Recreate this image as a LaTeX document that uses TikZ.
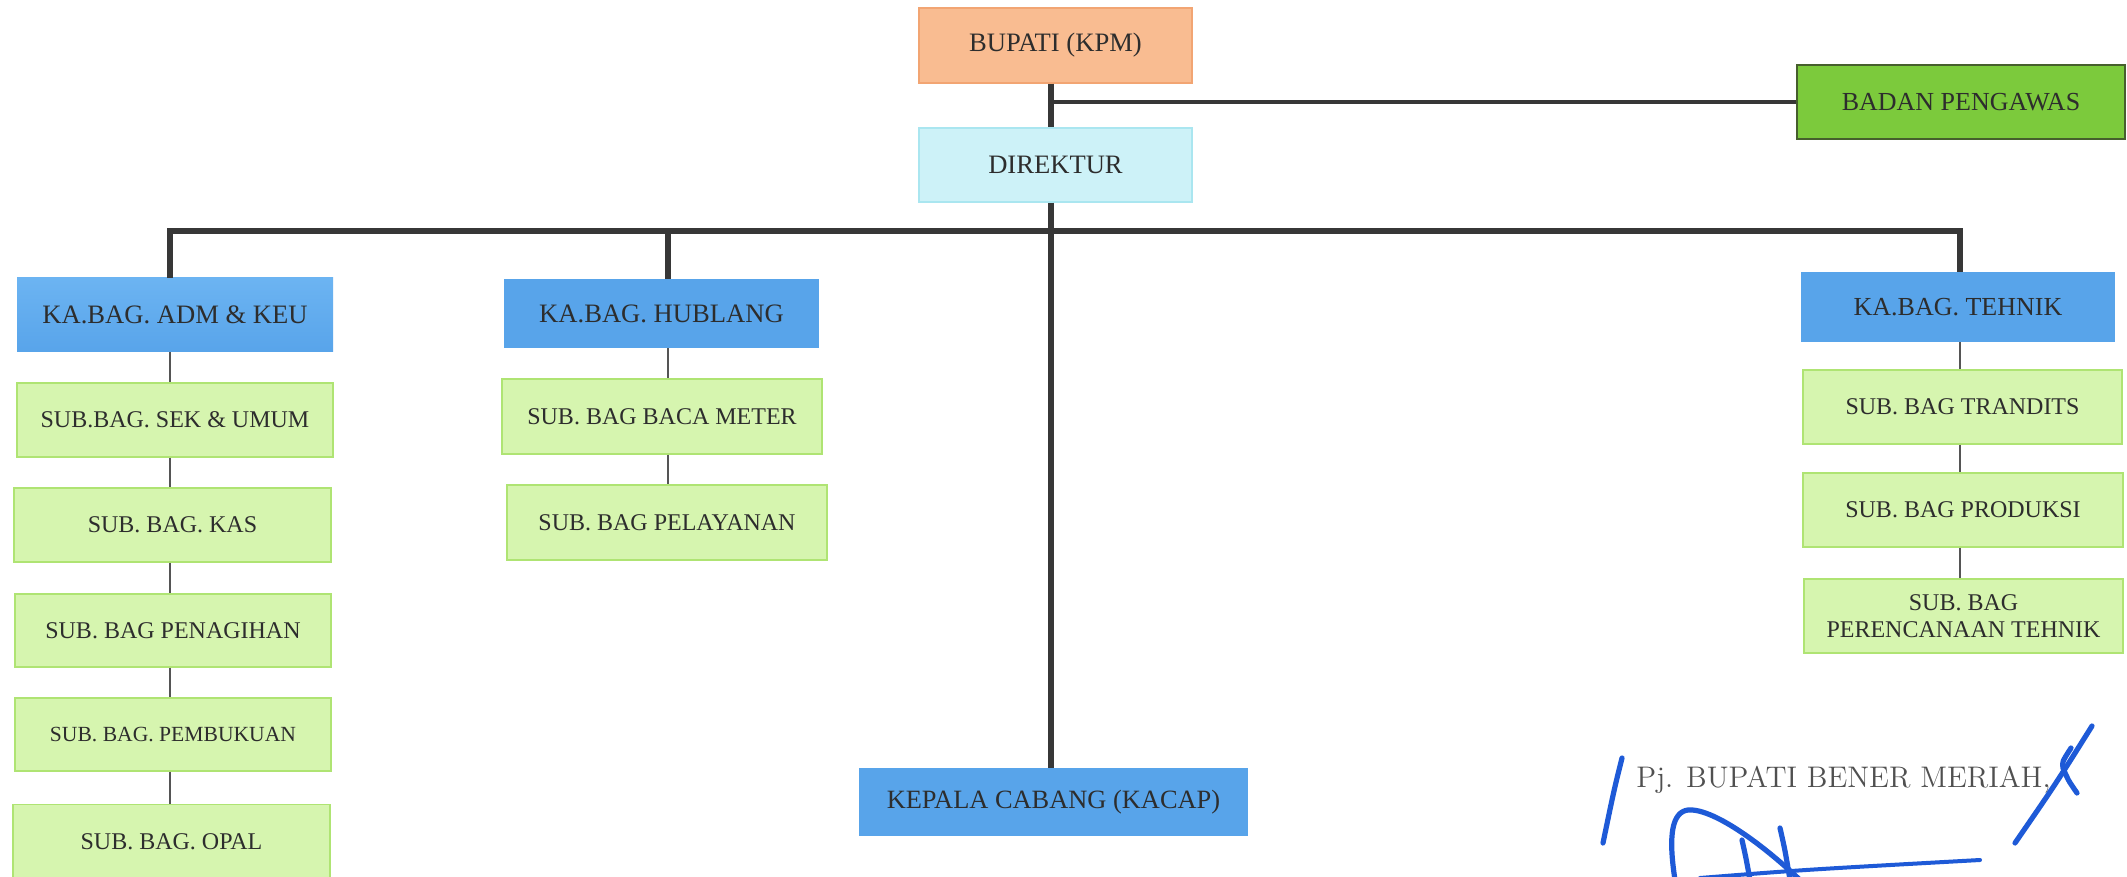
\documentclass[tikz,border=0pt]{standalone}
\usepackage{fontspec}
\newfontfamily\tnr{Liberation Serif}
\definecolor{txt}{RGB}{45,45,45}
\definecolor{linec}{RGB}{55,55,55}
\definecolor{orfill}{RGB}{249,188,145}
\definecolor{ordraw}{RGB}{242,165,115}
\definecolor{cyfill}{RGB}{205,242,248}
\definecolor{cydraw}{RGB}{170,230,240}
\definecolor{grfill}{RGB}{124,202,60}
\definecolor{grdraw}{RGB}{70,95,45}
\definecolor{blfill}{RGB}{88,164,234}
\definecolor{bltop}{RGB}{108,180,242}
\definecolor{lgfill}{RGB}{214,245,175}
\definecolor{lgdraw}{RGB}{175,228,115}
\definecolor{sig}{RGB}{30,90,215}
\definecolor{sigtext}{RGB}{80,80,80}
\begin{document}
\begin{tikzpicture}[x=0.5pt,y=-0.5pt,
  box/.style={rectangle,inner sep=0pt,align=center,text=txt,font=\tnr\fontsize{12pt}{13pt}\selectfont},
  topbox/.style={box,font=\tnr\fontsize{13.3pt}{15pt}\selectfont},
  orangebox/.style={topbox,fill=orfill,draw=ordraw,line width=0.6pt},
  cyanbox/.style={topbox,fill=cyfill,draw=cydraw,line width=0.6pt},
  greenbox/.style={topbox,fill=grfill,draw=grdraw,line width=1pt,font=\tnr\fontsize{13pt}{15pt}\selectfont},
  bluebox/.style={topbox,fill=blfill,draw=none},
  subbox/.style={box,fill=lgfill,draw=lgdraw,line width=0.6pt},
  thickline/.style={draw=linec,line width=3.2pt},
  thinline/.style={draw=linec!85,line width=0.9pt},
  midline/.style={draw=linec,line width=1.6pt},
  sigstroke/.style={draw=sig,line width=2.6pt,line cap=round,line join=round}
]
\useasboundingbox (0,0) rectangle (2127,877);
\fill[white] (0,0) rectangle (2127,877);

% top nodes
\node[orangebox,minimum width=136.5pt,minimum height=37.5pt] (bupati) at (1055.5,45.5) {BUPATI (KPM)};
\node[cyanbox,minimum width=136.5pt,minimum height=37pt] (direktur) at (1055.5,165) {DIREKTUR};
\node[greenbox,minimum width=164pt,minimum height=37pt] (badan) at (1961,102) {BADAN PENGAWAS};

% heads
\node[bluebox,top color=bltop,bottom color=blfill,minimum width=158pt,minimum height=37pt] (adm) at (175,315) {KA.BAG. ADM \& KEU};
\node[bluebox,minimum width=157.5pt,minimum height=34.5pt,font=\tnr\fontsize{13.3pt}{15pt}\selectfont] (hublang) at (661.5,313.5) {KA.BAG. HUBLANG};
\node[bluebox,minimum width=157pt,minimum height=35pt,font=\tnr\fontsize{13pt}{15pt}\selectfont] (tehnik) at (1958,307) {KA.BAG. TEHNIK};
\node[bluebox,minimum width=194.5pt,minimum height=34pt,font=\tnr\fontsize{13.2pt}{15pt}\selectfont] (kacab) at (1053.5,802) {KEPALA CABANG (KACAP)};

% ADM subs
\node[subbox,minimum width=158pt,minimum height=37pt] (sek) at (175,420) {SUB.BAG. SEK \& UMUM};
\node[subbox,minimum width=158.5pt,minimum height=37pt] (kas) at (172.5,525) {SUB. BAG. KAS};
\node[subbox,minimum width=158pt,minimum height=36.5pt] (pen) at (173,630.5) {SUB. BAG PENAGIHAN};
\node[subbox,minimum width=158pt,minimum height=36.5pt,font=\tnr\fontsize{10.8pt}{12pt}\selectfont] (pemb) at (173,734.5) {SUB. BAG. PEMBUKUAN};
\node[subbox,minimum width=158.5pt,minimum height=37pt] (opal) at (171.5,841.5) {SUB. BAG. OPAL};

% HUBLANG subs
\node[subbox,minimum width=160pt,minimum height=37.5pt] (baca) at (662,416.5) {SUB. BAG BACA METER};
\node[subbox,minimum width=160pt,minimum height=37.5pt] (pelayanan) at (667,522.5) {SUB. BAG PELAYANAN};

% TEHNIK subs
\node[subbox,minimum width=159.5pt,minimum height=37pt] (trandits) at (1962.5,407) {SUB. BAG TRANDITS};
\node[subbox,minimum width=160pt,minimum height=37pt] (produksi) at (1963,510) {SUB. BAG PRODUKSI};
\node[subbox,minimum width=159.5pt,minimum height=37pt,font=\tnr\fontsize{12pt}{13.5pt}\selectfont] (perenc) at (1963.5,616) {SUB. BAG\\PERENCANAAN TEHNIK};

% connector reference points
\coordinate (trunk) at (1051,231);
\coordinate (busL) at (170,231);
\coordinate (busH) at (668,231);
\coordinate (busR) at (1960,231);

% trunk
\draw[thickline] (bupati.south -| trunk) -- (direktur.north -| trunk);
\draw[thickline] (direktur.south -| trunk) -- (kacab.north -| trunk);
\draw[midline] (badan.west) -- (badan.west -| trunk);
% bus
\draw[thickline,line join=miter] (adm.north -| busL) -- (busL) -- (busR) -- (tehnik.north -| busR);
\draw[thickline] (busH) -- (hublang.north -| busH);

% ADM chain
\draw[thinline] (adm.south -| busL) -- (sek.north -| busL);
\draw[thinline] (sek.south -| busL) -- (kas.north -| busL);
\draw[thinline] (kas.south -| busL) -- (pen.north -| busL);
\draw[thinline] (pen.south -| busL) -- (pemb.north -| busL);
\draw[thinline] (pemb.south -| busL) -- (opal.north -| busL);
% HUBLANG chain
\draw[thinline] (hublang.south -| busH) -- (baca.north -| busH);
\draw[thinline] (baca.south -| busH) -- (pelayanan.north -| busH);
% TEHNIK chain
\draw[thinline] (tehnik.south -| busR) -- (trandits.north -| busR);
\draw[thinline] (trandits.south -| busR) -- (produksi.north -| busR);
\draw[thinline] (produksi.south -| busR) -- (perenc.north -| busR);

% signature block
\node[anchor=base west,inner sep=0pt,text=sigtext,font=\fontsize{14.9pt}{16pt}\selectfont] (pj) at (1636,787) {Pj. BUPATI BENER MERIAH,};
\draw[sigstroke] (1622,758) .. controls (1614,790) .. (1603,843);
\draw[sigstroke] (2092,726) .. controls (2055,785) .. (2015,843);
\draw[sigstroke] (2071,748) .. controls (2062,762) .. (2063,768) .. controls (2068,780) .. (2077,793);
\draw[sigstroke] (1675,880) .. controls (1668,835) and (1672,812) .. (1688,810) .. controls (1712,808) and (1760,842) .. (1800,880);
\draw[sigstroke] (1742,840) .. controls (1746,858) .. (1750,880);
\draw[sigstroke] (1780,828) .. controls (1785,850) .. (1790,880);
\draw[sig,line width=2pt,line cap=round] (1700,878) .. controls (1800,870) .. (1980,860);
\end{tikzpicture}
\end{document}
